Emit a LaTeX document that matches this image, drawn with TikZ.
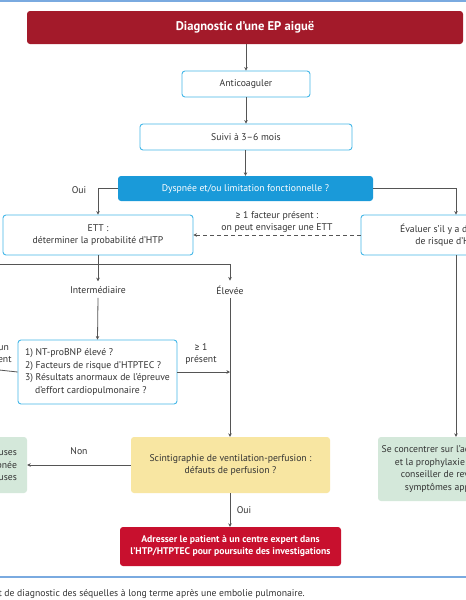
\documentclass[tikz,border=0pt]{standalone}
\usepackage{fontspec}
\setmainfont{PT Sans}
\newfontfamily\symf{Fira Sans}
\usetikzlibrary{arrows.meta}
\definecolor{titred}{HTML}{A31A2A}
\definecolor{brightred}{HTML}{C8102E}
\definecolor{bluefill}{HTML}{1A9AD9}
\definecolor{blueline}{HTML}{45B8E8}
\definecolor{rule}{HTML}{7AAAE0}
\definecolor{yel}{HTML}{F8E6A2}
\definecolor{grn}{HTML}{D4E8DA}
\definecolor{txt}{HTML}{333333}
\definecolor{conn}{HTML}{555555}
\tikzset{
  base/.style={rounded corners=3pt, inner sep=2pt, font=\fontsize{9.7}{12.5}\selectfont, text=txt, align=center},
  outl/.style={base, draw=blueline, line width=0.9pt, fill=white},
  filled/.style={base, draw=none},
  lbl/.style={font=\fontsize{9.7}{12.5}\selectfont, text=txt, align=center, inner sep=1pt},
  arr/.style={draw=conn, line width=0.8pt, -{Stealth[length=3.5pt,width=3.5pt]}},
  ln/.style={draw=conn, line width=0.8pt},
}
\begin{document}
\begin{tikzpicture}[x=1pt,y=-1pt]
\useasboundingbox (0,0) rectangle (466,600);
\clip (0,0) rectangle (466,600);
\fill[white] (0,0) rectangle (466,600);
% rules
\draw[rule, line width=1.4pt] (0,1) -- (466,1);
\draw[rule, line width=1.2pt] (0,577) -- (466,577);
% nodes
\node[filled, fill=titred, text=white, font=\fontsize{12.6}{14}\selectfont\bfseries, minimum width=436pt, minimum height=33pt] (title) at (245,27.5) {Diagnostic d’une EP aiguë};
\node[outl, minimum width=128pt, minimum height=26pt] (anti) at (246,84) {Anticoaguler};
\node[outl, minimum width=212pt, minimum height=26pt] (suivi) at (246,137) {Suivi à 3–6 mois};
\node[filled, fill=bluefill, text=white, minimum width=255pt, minimum height=25pt] (dysp) at (245.5,188.5) {Dyspnée et/ou limitation fonctionnelle ?};
\node[outl, minimum width=190pt, minimum height=40pt] (ett) at (98,235) {ETT :\\déterminer la probabilité d’HTP};
\node[outl, minimum width=190pt, minimum height=40pt] (eval) at (456,235) {Évaluer s’il y a des facteurs\\de risque d’HTPTEC};
\node[lbl] (inter) at (98,290) {Intermédiaire};
\node[lbl] (elev) at (230,290) {Élevée};
\node[outl, minimum width=159pt, minimum height=64pt, align=left] (nt) at (97.5,372) {1) NT-proBNP élevé ?\\2) Facteurs de risque d’HTPTEC ?\\3) Résultats anormaux de l’épreuve\\\hspace*{10pt}d’effort cardiopulmonaire ?};
\node[filled, fill=yel, minimum width=199pt, minimum height=56pt] (scint) at (230.5,465) {Scintigraphie de ventilation-perfusion :\\défauts de perfusion ?};
\node[filled, fill=grn, minimum width=156pt, minimum height=56pt, align=right, inner xsep=0pt, text width=136pt] (lgrn) at (-51,465) {Rechercher d’autres causes\\de la dyspnée\\ou traiter ces causes};
\node[filled, fill=grn, minimum width=156pt, minimum height=64pt] (rgrn) at (456,469) {Se concentrer sur l’activité physique\\et la prophylaxie secondaire ;\\conseiller de revenir si des\\symptômes apparaissent};
\node[filled, fill=brightred, text=white, font=\fontsize{9.7}{12}\selectfont\bfseries, minimum width=221pt, minimum height=39pt] (adr) at (230.5,546.5) {Adresser le patient à un centre expert dans\\l’HTP/HTPTEC pour poursuite des investigations};
% labels
\node[lbl] (oui1) at (79,190) {Oui};
\node[lbl] (non) at (79,451) {Non};
\node[lbl] (oui2) at (244,510) {Oui};
\node[lbl] (pres) at (201,354) {{\symf ≥} 1\\présent};
\node[lbl] (aucun) at (-4,354) {Aucun\\présent};
\node[lbl] (fact) at (277,222) {{\symf ≥} 1 facteur présent :\\on peut envisager une ETT};
\node[lbl, anchor=east] (cap) at (306,594) {Figure 1. Algorithme de suivi et de diagnostic des séquelles à long terme après une embolie pulmonaire.};
% coordinates
\coordinate (split) at (98,264);
\coordinate (lft) at (-10,264);
\coordinate (nl) at (-10,369);
% connectors
\draw[arr] (title.south -| anti.north) -- (anti.north);
\draw[arr] (anti.south) -- (suivi.north -| anti.south);
\draw[arr] (suivi.south -| dysp.north) -- (dysp.north);
\draw[arr] (dysp.west) -| (ett.north);
\draw[arr] (dysp.east) -| (eval.north);
\draw[arr, dashed, dash pattern=on 4pt off 3pt] (eval.west) -- (ett.east);
\draw[ln] (ett.south) -- (split);
\draw[ln] (lft) -- (split -| elev.north);
\draw[arr] (split) -- ([yshift=4pt]inter.north);
\draw[arr] (split -| elev.north) -- ([yshift=4pt]elev.north);
\draw[arr] ([yshift=-3pt]inter.south) -- (nt.north);
\draw[arr] ([yshift=-3pt]elev.south) -- (scint.north -| elev.south);
\draw[arr] (nt.east) -- (nt.east -| elev.south);
\draw[ln] (nt.west) -- (nl);
\draw[arr] (eval.south) -- (rgrn.north);
\draw[arr] (scint.west) -- (lgrn.east);
\draw[arr] (scint.south -| elev.south) -- (adr.north -| elev.south);
\end{tikzpicture}
\end{document}
